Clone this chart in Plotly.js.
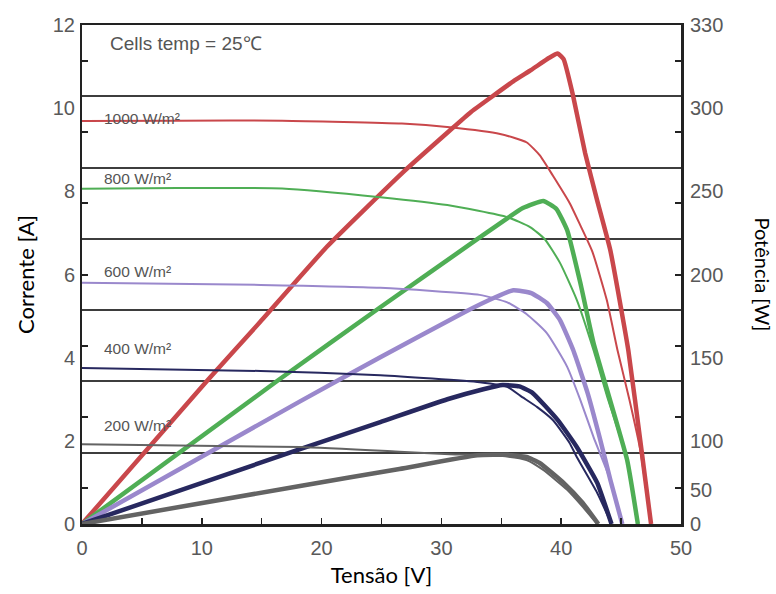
<!DOCTYPE html>
<html>
<head>
<meta charset="utf-8">
<script src="https://cdn.plot.ly/plotly-3.0.1.min.js"></script>
<style>html,body{margin:0;padding:0;background:#fff;}#chart{width:776px;height:594px;}</style>
</head>
<body>
<div id="chart"></div>
<script>
// I-V curves (current, A) per irradiance
const v1000I = [0, 8, 16.7, 26.7, 30.7, 34.9, 37.1, 38.2, 39.3, 40.7, 41.6, 42.6, 43.8, 44.7, 45.7, 46.6, 47.5];
const i1000  = [9.69, 9.70, 9.70, 9.63, 9.54, 9.38, 9.18, 8.87, 8.38, 7.72, 7.18, 6.55, 5.39, 4.18, 2.98, 1.78, 0];
const v800I  = [0, 8, 16.7, 24.9, 30.5, 35.5, 37.4, 38.6, 39.9, 41.3, 42.7, 43.8, 45.5, 46.4];
const i800   = [8.06, 8.08, 8.07, 7.86, 7.67, 7.38, 7.14, 6.86, 6.28, 5.39, 4.18, 3.1, 1.54, 0];
const v600I  = [0, 14.9, 24.9, 33.2, 35.5, 37.1, 38.8, 40.5, 41.6, 42.7, 44.1, 45.1];
const i600   = [5.80, 5.75, 5.68, 5.51, 5.33, 5.05, 4.59, 3.78, 2.98, 2.09, 1.06, 0];
const v400I  = [0, 14.9, 24.9, 33.2, 35.5, 36.6, 38.0, 39.3, 40.7, 41.3, 43, 44.2];
const i400   = [3.75, 3.68, 3.58, 3.41, 3.30, 3.08, 2.81, 2.50, 1.95, 1.61, 0.75, 0];
const v200I  = [0, 18.2, 26.5, 30.7, 34.9, 37.1, 38.5, 40.5, 41.8, 43];
const i200   = [1.92, 1.85, 1.74, 1.68, 1.64, 1.54, 1.30, 0.82, 0.41, 0];

// P-V curves (power, W) per irradiance
const v1000P = [0, 10.5, 14.9, 20.5, 26.7, 30.7, 32.4, 34.1, 36.0, 37.5, 39.0, 39.7, 40.2, 41, 42, 43, 44.1, 45.6, 46.7, 47.5];
const p1000  = [0, 101, 142, 195, 246, 276, 288.5, 299, 310.5, 318.5, 327, 330, 326, 300, 260, 227, 192, 122, 52, 0];
const v800P  = [0, 16.4, 24.9, 33.2, 36.8, 38.5, 39.6, 40.5, 41.6, 42.7, 45.5, 46.4];
const p800   = [0, 101, 152, 201, 221.6, 226.6, 221, 206, 169, 127, 45, 0];
const v600P  = [0, 18.2, 24.9, 31.8, 34.5, 36.0, 37.5, 38.8, 39.9, 41.0, 42.2, 43.2, 44.1, 45.1];
const p600   = [0, 86, 117, 148, 159, 164, 162, 155, 143, 122, 92, 61, 31, 0];
const v400P  = [0, 18.2, 24.9, 30.5, 33.5, 35.1, 36.5, 37.6, 39.7, 41.3, 43, 44.2];
const p400   = [0, 52.5, 71.5, 87.5, 94.5, 97.5, 96.5, 92, 73, 54, 29, 0];
const v200P  = [0, 18.2, 26.5, 33, 35.5, 37.1, 38.2, 40.2, 41.8, 43.1];
const p200   = [0, 26.7, 38.6, 48.2, 48.5, 47, 42.8, 28.8, 14.7, 0];

const irradianceLabels = ['1000 W/m²', '800 W/m²', '600 W/m²', '400 W/m²', '200 W/m²'];
const labelCurrent = [9.76, 8.32, 6.08, 4.21, 2.36];
const rightTickVals = [0, 0.82, 2, 4, 6, 8, 10, 12];
const rightTickText = ['0', '50', '100', '150', '200', '250', '300', '330'];
const minorPowerTicks = [25, 75, 125, 175, 225, 275, 325];

const colors = ['#c9474b', '#4fae55', '#9a88cc', '#27285f', '#636363'];
const ivV = [v1000I, v800I, v600I, v400I, v200I];
const ivI = [i1000, i800, i600, i400, i200];
const pvV = [v1000P, v800P, v600P, v400P, v200P];
const pvP = [p1000, p800, p600, p400, p200];

// axes: y = power scale (frame + inside ticks), y2 = power gridlines,
// y3 = current scale (left labels), y4 = right labels
const traces = [];
for (let k = 0; k < 5; k++) {
  traces.push({x: ivV[k], y: ivI[k], type: 'scatter', mode: 'lines', yaxis: 'y3',
    line: {color: colors[k], width: 2, shape: 'spline', smoothing: 0.5}, hoverinfo: 'skip'});
}
for (let k = 0; k < 5; k++) {
  traces.push({x: pvV[k], y: pvP[k], type: 'scatter', mode: 'lines', yaxis: 'y',
    line: {color: colors[k], width: 4.5, shape: 'spline', smoothing: 0.4}, hoverinfo: 'skip'});
}
['y2', 'y4'].forEach(ax => traces.push({x: [0], y: [0], yaxis: ax, mode: 'markers',
  marker: {opacity: 0}, hoverinfo: 'skip', type: 'scatter'}));

const annotations = [{
  text: 'Cells temp = 25℃', x: 2.2, y: 11.55, xref: 'x', yref: 'y3', xanchor: 'left', yanchor: 'middle',
  showarrow: false, font: {family: 'Liberation Sans, Arial, sans-serif', size: 19, color: '#555'}
}, {
  text: 'Potência [W]', xref: 'paper', yref: 'paper', x: 1.137, y: 0.5, textangle: 90,
  xanchor: 'center', yanchor: 'middle', showarrow: false,
  font: {family: 'Lato, sans-serif', size: 20, color: '#000'}
}];
for (let k = 0; k < 5; k++) {
  annotations.push({text: irradianceLabels[k], x: 1.7, y: labelCurrent[k], xref: 'x', yref: 'y3',
    xanchor: 'left', yanchor: 'middle', showarrow: false,
    font: {family: 'Liberation Sans, Arial, sans-serif', size: 15.5, color: '#555'}});
}

const tickFont = {family: 'Liberation Sans, Arial, sans-serif', size: 20, color: '#595959'};
const layout = {
  width: 776, height: 594,
  margin: {l: 82, r: 95, t: 25, b: 70},
  paper_bgcolor: '#fff', plot_bgcolor: '#fff',
  showlegend: false,
  xaxis: {range: [0, 50], dtick: 10, ticks: 'inside', ticklen: 6, tickwidth: 1.5, tickcolor: '#222',
    minor: {dtick: 5, ticks: 'inside', ticklen: 6, tickwidth: 1.5, tickcolor: '#222'},
    showline: true, linecolor: '#222', linewidth: 2.5, mirror: true, showgrid: false, zeroline: false,
    tickfont: tickFont, ticklabelstandoff: 4,
    title: {text: 'Tensão [V]', font: {family: 'Lato, sans-serif', size: 22, color: '#000'}, standoff: 10}},
  yaxis: {range: [0, 350], tickmode: 'array', tickvals: minorPowerTicks, showticklabels: false,
    ticks: 'inside', ticklen: 6, tickwidth: 2, tickcolor: '#222', mirror: 'ticks',
    showline: true, linecolor: '#222', linewidth: 2.5, showgrid: false, zeroline: false},
  yaxis2: {range: [0, 350], overlaying: 'y', side: 'right', anchor: 'x', dtick: 50,
    showgrid: true, gridcolor: '#3d3d3d', gridwidth: 2, ticks: '', showticklabels: false,
    showline: false, zeroline: false},
  yaxis3: {range: [0, 12], overlaying: 'y', side: 'left', anchor: 'x', dtick: 2, ticks: '',
    showline: false, showgrid: false, zeroline: false, tickfont: tickFont, ticklabelstandoff: 6,
    title: {text: 'Corrente [A]', font: {family: 'Lato, sans-serif', size: 22, color: '#000'}, standoff: 12}},
  yaxis4: {range: [0, 12], overlaying: 'y', side: 'right', anchor: 'x', tickvals: rightTickVals,
    ticktext: rightTickText, ticks: '', showgrid: false, showline: false, zeroline: false,
    tickfont: tickFont, ticklabelstandoff: 8},
  annotations: annotations
};

Plotly.newPlot('chart', traces, layout, {displayModeBar: false, staticPlot: true});
</script>
</body>
</html>
